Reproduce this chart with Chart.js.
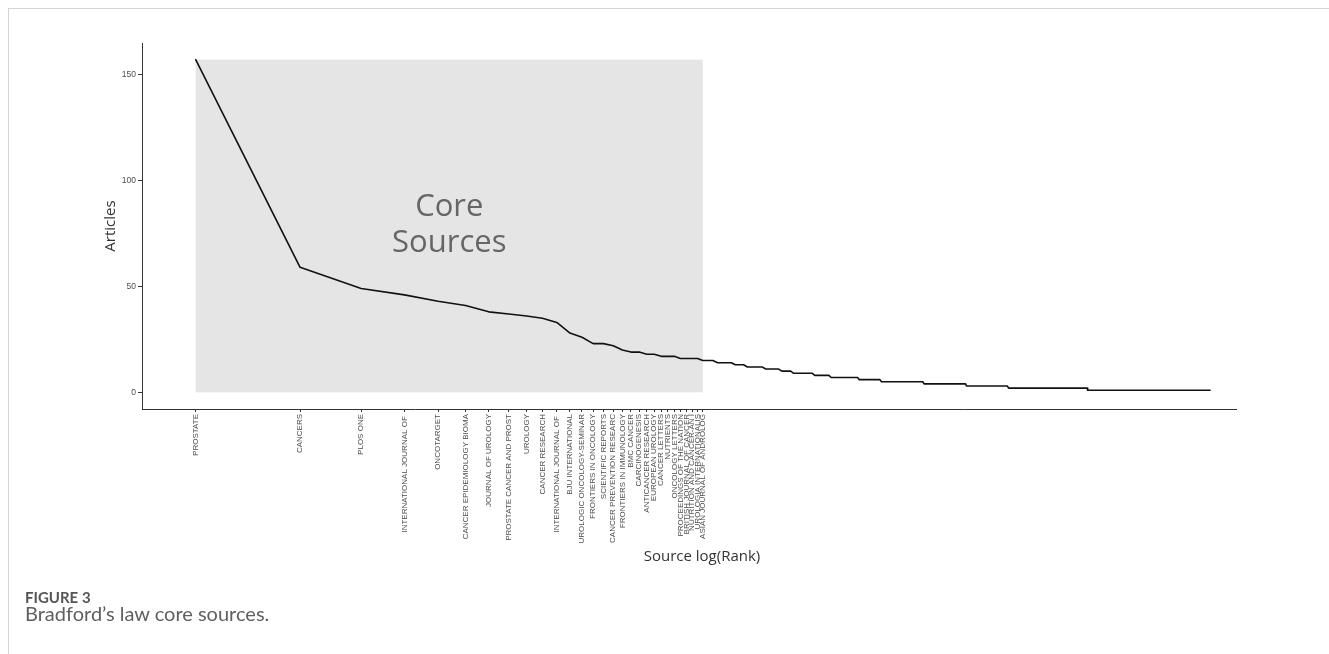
<!DOCTYPE html>
<html>
<head>
<meta charset="utf-8">
<script src="https://cdn.jsdelivr.net/npm/chart.js@4.4.1/dist/chart.umd.min.js"></script>
<style>
html,body{margin:0;padding:0;background:#fff;}
#wrap{position:relative;width:1329px;height:654px;overflow:hidden;background:#fff;}
#frame{position:absolute;left:8px;top:8px;right:-2px;bottom:-2px;border-left:1px solid #d4d4d4;border-top:1px solid #d4d4d4;}
#chart{position:absolute;left:0;top:0;}
.cap1{position:absolute;left:25px;top:588px;font-family:Lato,"Open Sans",sans-serif;font-weight:700;font-size:15px;line-height:1.2;color:#555;white-space:nowrap;}
.cap2{position:absolute;left:25px;top:601px;font-family:Lato,"Open Sans",sans-serif;font-weight:400;font-size:20px;line-height:1.2;color:#5f5f5f;white-space:nowrap;}
</style>
</head>
<body>
<div id="wrap">
  <div id="frame"></div>
  <canvas id="chart" width="1329" height="654"></canvas>
  <div class="cap1">FIGURE 3</div>
  <div class="cap2">Bradford’s law core sources.</div>
</div>
<script>
// ---- data ----
const coreSources = [
  "PROSTATE", "CANCERS", "PLOS ONE", "INTERNATIONAL JOURNAL OF ", "ONCOTARGET",
  "CANCER EPIDEMIOLOGY BIOMA", "JOURNAL OF UROLOGY", "PROSTATE CANCER AND PROST", "UROLOGY",
  "CANCER RESEARCH", "INTERNATIONAL JOURNAL OF ", "BJU INTERNATIONAL", "UROLOGIC ONCOLOGY-SEMINAR",
  "FRONTIERS IN ONCOLOGY", "SCIENTIFIC REPORTS", "CANCER PREVENTION RESEARC", "FRONTIERS IN IMMUNOLOGY",
  "BMC CANCER", "CARCINOGENESIS", "ANTICANCER RESEARCH", "EUROPEAN UROLOGY", "CANCER LETTERS",
  "NUTRIENTS", "ONCOLOGY LETTERS", "PROCEEDINGS OF THE NATION", "BRITISH JOURNAL OF CANCER",
  "NUTRITION AND CANCER-AN I", "UROLOGIA INTERNATIONALIS", "ASIAN JOURNAL OF ANDROLOG"
];
const coreArticles = [157, 59, 49, 46, 43, 41, 38, 37, 36, 35, 33, 28, 26, 23, 23, 22, 20, 19, 19, 18, 18, 17, 17, 17, 16, 16, 16, 16, 15];
// remaining (non-core) sources: article level and how many sources have it
const tailArticleLevels = [15, 14, 13, 12, 11, 10, 9, 8, 7, 6, 5, 4, 3, 2, 1];
const tailSourceCounts  = [2, 4, 3, 5, 5, 4, 8, 7, 14, 13, 31, 41, 54, 152, 475];
const yTickValues = [0, 50, 100, 150];
const xAxisTitle = "Source log(Rank)";
const yAxisTitle = "Articles";
const zoneLabel = ["Core", "Sources"];

// ---- build points (rank, articles) ----
const points = [];
coreArticles.forEach((v, i) => points.push({ x: i + 1, y: v }));
let rank = coreArticles.length;
tailArticleLevels.forEach((lvl, j) => {
  for (let k = 0; k < tailSourceCounts[j]; k++) { rank++; points.push({ x: rank, y: lvl }); }
});

const maxArticles = Math.max(...coreArticles);

const bradfordPlugin = {
  id: 'bradford',
  beforeDatasetsDraw(chart) {
    const { ctx, scales: { x, y } } = chart;
    const x0 = x.getPixelForValue(1), x1 = x.getPixelForValue(coreArticles.length);
    const y0 = y.getPixelForValue(0), y1 = y.getPixelForValue(maxArticles);
    ctx.save();
    ctx.fillStyle = '#e5e5e5';
    ctx.fillRect(x0, y1, x1 - x0, y0 - y1);
    const cx = x.getPixelForValue(Math.sqrt(coreArticles.length));
    const cy = y.getPixelForValue(maxArticles / 2);
    ctx.fillStyle = '#666666';
    ctx.font = '31px "Open Sans", sans-serif';
    ctx.textAlign = 'center';
    ctx.textBaseline = 'alphabetic';
    ctx.fillText(zoneLabel[0], cx, cy - 10);
    ctx.fillText(zoneLabel[1], cx, cy + 26);
    ctx.restore();
  },
  afterDraw(chart) {
    const { ctx, chartArea } = chart;
    ctx.save();
    ctx.fillStyle = '#333';
    ctx.font = '15px "Open Sans", sans-serif';
    ctx.textAlign = 'center';
    ctx.textBaseline = 'middle';
    ctx.fillText(xAxisTitle, 702, 557);
    ctx.translate(111, (chartArea.top + chartArea.bottom) / 2);
    ctx.rotate(-Math.PI / 2);
    ctx.fillText(yAxisTitle, 0, 0);
    ctx.restore();
  }
};

new Chart(document.getElementById('chart').getContext('2d'), {
  type: 'line',
  data: {
    datasets: [{
      data: points,
      borderColor: '#111',
      borderWidth: 1.6,
      borderJoinStyle: 'round',
      borderCapStyle: 'round',
      pointRadius: 0,
      tension: 0,
      fill: false
    }]
  },
  options: {
    responsive: false,
    animation: false,
    devicePixelRatio: 1,
    layout: { padding: { left: 0, top: 43, right: 93, bottom: 0 } },
    plugins: { legend: { display: false }, tooltip: { enabled: false } },
    scales: {
      x: {
        type: 'logarithmic',
        min: 0.711,
        max: 1000,
        afterBuildTicks: s => { s.ticks = coreSources.map((_, i) => ({ value: i + 1 })); },
        afterFit: s => { s.height = 245; },
        ticks: {
          autoSkip: false, minRotation: 90, maxRotation: 90, padding: 2,
          font: { family: '"Liberation Sans", Arial, sans-serif', size: 8 },
          color: '#4d4d4d',
          callback: (v, i) => coreSources[i]
        },
        grid: { display: true, drawOnChartArea: false, drawTicks: true, tickLength: 3, tickColor: '#333', color: '#333' },
        border: { display: true, color: '#333', width: 1 }
      },
      y: {
        type: 'linear',
        min: -7.85,
        max: 164.85,
        afterBuildTicks: s => { s.ticks = yTickValues.map(v => ({ value: v })); },
        afterFit: s => { s.width = 142; },
        ticks: {
          padding: 2,
          font: { family: '"Liberation Sans", Arial, sans-serif', size: 8.5 },
          color: '#4d4d4d'
        },
        grid: { display: true, drawOnChartArea: false, drawTicks: true, tickLength: 4, tickColor: '#333', color: '#333' },
        border: { display: true, color: '#333', width: 1 }
      }
    }
  },
  plugins: [bradfordPlugin]
});
</script>
</body>
</html>
